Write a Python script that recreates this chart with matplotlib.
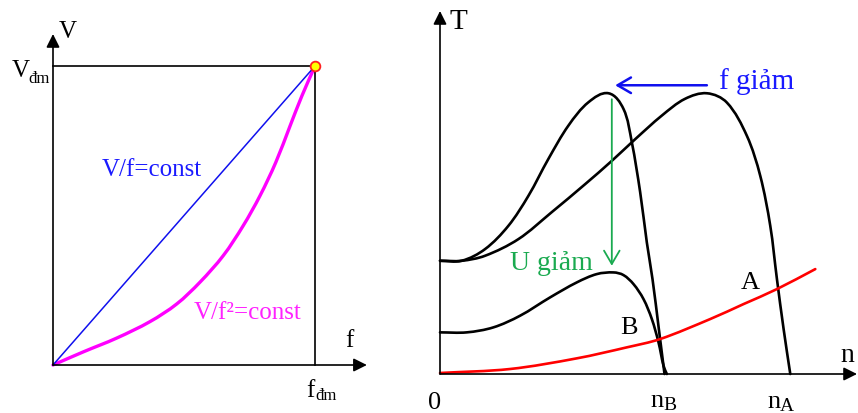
import matplotlib
matplotlib.use("Agg")
import matplotlib.pyplot as plt
from matplotlib.path import Path
from matplotlib.patches import PathPatch
import numpy as np

plt.rcParams['font.family'] = ['Liberation Serif', 'DejaVu Serif']

# ---------------- Left panel data (normalized to rated values) ----------------
f_lin = [0.0, 1.0]
v_lin = [0.0, 1.0]
f_sq = [0.0, 0.116, 0.243, 0.370, 0.472, 0.561, 0.650, 0.726, 0.790, 0.850, 0.905, 0.950, 1.0]
v_sq = [0.0, 0.044, 0.090, 0.145, 0.204, 0.277, 0.366, 0.466, 0.566, 0.677, 0.800, 0.900, 1.0]
rated_point = (1.0, 1.0)

# ---------------- Right panel data (arbitrary units) ----------------
nA_x = [0, 6.5, 13.5, 23.5, 33.5, 43.5, 51.5, 58.5, 66.5, 73.4, 80, 86, 92, 96, 99, 101, 103, 105]
nA_y = [34, 34, 35.5, 40.5, 48.6, 57, 64, 70.5, 77.6, 82.6, 84.3, 81.5, 71.5, 59.5, 44.5, 28.5, 13.5, 0]

nF_x = [0, 6.5, 13.5, 20.5, 26.5, 32.5, 38.5, 44.5, 50.5, 55, 57.5, 60, 62, 63.7, 65.6, 67.3]
nF_y = [34, 34, 37.5, 44.5, 53.5, 64.6, 74.6, 81.6, 84.3, 79.6, 69.6, 54.6, 39.5, 28.5, 13.5, 0]

nU_x = [0, 8, 16, 24, 33, 41, 47, 52, 55, 58, 61, 63.5, 65.5, 67, 68]
nU_y = [12.5, 12.5, 14, 17.5, 23, 27.5, 30, 30.5, 29.7, 27, 22.5, 16.5, 9.5, 2.5, 0]

load_x = [0, 21, 41, 56, 66, 81, 91, 101, 112.5]
load_y = [0.3, 1.5, 4.7, 8, 10.5, 16.5, 21, 25.5, 31.5]


def smooth_line(ax, xs, ys, **kw):
    """Draw a smooth curve through the given points (cubic Beziers built in display space)."""
    p = ax.transData.transform(np.column_stack([xs, ys]).astype(float))
    n = len(p)
    tang = np.zeros_like(p)
    for i in range(n):
        if i == 0:
            d = p[1] - p[0]
        elif i == n - 1:
            d = p[-1] - p[-2]
        else:
            d = p[i + 1] - p[i - 1]
        tang[i] = d / (np.hypot(*d) + 1e-12)
    verts = [p[0]]
    codes = [Path.MOVETO]
    for i in range(n - 1):
        L = np.hypot(*(p[i + 1] - p[i])) / 3.0
        verts += [p[i] + tang[i] * L, p[i + 1] - tang[i + 1] * L, p[i + 1]]
        codes += [Path.CURVE4] * 3
    verts = ax.transData.inverted().transform(np.array(verts))
    patch = PathPatch(Path(verts, codes), facecolor='none', clip_on=False,
                      capstyle='round', joinstyle='round', **kw)
    ax.add_patch(patch)
    return patch


AXIS_ARROW = dict(arrowstyle='-|>', color='black', lw=1.2, mutation_scale=20,
                  shrinkA=0, shrinkB=0)

fig = plt.figure(figsize=(8.58, 4.14), dpi=100)

# ---------------- Left axes ----------------
ax1 = fig.add_axes([53/858, 48/414, 262/858, 299/414])
ax1.set_xlim(0, 1)
ax1.set_ylim(0, 1)
ax1.axis('off')

ax1.plot([0, 1], [1, 1], color='black', lw=1.2, clip_on=False)
ax1.plot([1, 1], [0, 1], color='black', lw=1.2, clip_on=False)
ax1.annotate('', xy=(0, 1.107), xytext=(0, 0), arrowprops=AXIS_ARROW, annotation_clip=False)
ax1.annotate('', xy=(1.198, 0), xytext=(0, 0), arrowprops=AXIS_ARROW, annotation_clip=False)

ax1.plot(f_lin, v_lin, color='#1010ee', lw=1.1, clip_on=False)
smooth_line(ax1, f_sq, v_sq, edgecolor='#ff00ff', lw=2.4)
ax1.plot([rated_point[0]], [rated_point[1]], 'o', ms=7, mfc='#ffff00', mec='#ff2020', mew=1.3,
         clip_on=False, zorder=5)

ax1.text(0.057, 1.117, 'V', fontsize=18, ha='center', va='center')
ax1.text(-0.088, 0.965, 'V', fontsize=18, ha='right', va='baseline')
ax1.text(-0.095, 0.947, 'đm', fontsize=12, ha='left', va='baseline')
ax1.text(1.13, 0.085, 'f', fontsize=18, ha='center', va='center')
ax1.text(1.0, -0.105, 'f', fontsize=18, ha='right', va='baseline')
ax1.text(1.0, -0.115, 'đm', fontsize=12, ha='left', va='baseline')
ax1.text(0.378, 0.656, 'V/f=const', fontsize=18, color='#1a1aff', ha='center', va='center')
ax1.text(0.744, 0.177, 'V/f²=const', fontsize=18, color='#ff22ff', ha='center', va='center')

# ---------------- Right axes ----------------
ax2 = fig.add_axes([440/858, 39/414, 417/858, 363/414])
ax2.set_xlim(0, 125)
ax2.set_ylim(0, 109)
ax2.axis('off')

ax2.annotate('', xy=(0, 109), xytext=(0, 0), arrowprops=AXIS_ARROW, annotation_clip=False)
ax2.annotate('', xy=(125, 0), xytext=(0, 0), arrowprops=AXIS_ARROW, annotation_clip=False)

smooth_line(ax2, nA_x, nA_y, edgecolor='black', lw=1.9)
smooth_line(ax2, nF_x, nF_y, edgecolor='black', lw=1.9)
smooth_line(ax2, nU_x, nU_y, edgecolor='black', lw=1.9)
smooth_line(ax2, load_x, load_y, edgecolor='#ff0000', lw=1.9)

ax2.annotate('', xy=(52.5, 86.7), xytext=(80, 86.7),
             arrowprops=dict(arrowstyle='->,head_length=0.6,head_width=0.35', color='#1010ee',
                             lw=1.8, mutation_scale=16, shrinkA=0, shrinkB=0))
ax2.annotate('', xy=(51.5, 32.5), xytext=(51.5, 82.5),
             arrowprops=dict(arrowstyle='->,head_length=0.6,head_width=0.35', color='#1aaa50',
                             lw=1.3, mutation_scale=16, shrinkA=0, shrinkB=0))

ax2.text(5.5, 106, 'T', fontsize=21, ha='center', va='center')
ax2.text(122, 6, 'n', fontsize=20, ha='center', va='center')
ax2.text(-1.5, -8.3, '0', fontsize=19, ha='center', va='center')
ax2.text(67, -9.6, 'n', fontsize=19, ha='right', va='baseline')
ax2.text(67, -10.6, 'B', fontsize=14, ha='left', va='baseline')
ax2.text(102, -9.8, 'n', fontsize=19, ha='right', va='baseline')
ax2.text(102, -10.7, 'A', fontsize=14, ha='left', va='baseline')
ax2.text(93, 27.5, 'A', fontsize=19, ha='center', va='center')
ax2.text(56.5, 14, 'B', fontsize=19, ha='center', va='center')
ax2.text(33.5, 33.5, 'U giảm', fontsize=20, color='#1aaa50', ha='center', va='center')
ax2.text(95, 88, 'f giảm', fontsize=21, color='#1a1aff', ha='center', va='center')

fig.savefig('out.png', dpi=100)
